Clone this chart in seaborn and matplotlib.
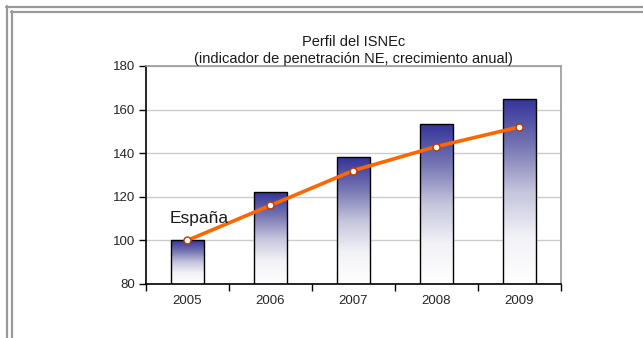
import numpy as np
import pandas as pd
import matplotlib
matplotlib.use("Agg")
import matplotlib.pyplot as plt
from matplotlib.lines import Line2D
from matplotlib.colors import LinearSegmentedColormap
import seaborn as sns

# Data
years = ["2005", "2006", "2007", "2008", "2009"]
isnec_bars = [100, 122, 138, 153.5, 165]
espana_line = [100, 116, 132, 143, 152]
y_ticks = [80, 100, 120, 140, 160, 180]
title = "Perfil del ISNEc\n(indicador de penetración NE, crecimiento anual)"
series_label = "España"

sns.set_theme(style="white")
plt.rcParams["font.family"] = ["Liberation Sans", "DejaVu Sans"]

df = pd.DataFrame({"year": years, "bar": isnec_bars, "line": espana_line})

fig = plt.figure(figsize=(6.43, 3.38), dpi=100)
fig.patch.set_facecolor("white")
ax = fig.add_axes([0.227, 0.160, 0.645, 0.645])

sns.barplot(data=df, x="year", y="bar", ax=ax, width=0.4,
            color="#35349a", edgecolor="black", linewidth=1.0, zorder=2)

# Vertical gradient fill for each bar: dark blue at top fading to white
cmap = LinearSegmentedColormap.from_list(
    "bar_fade", ["#ffffff", "#f2f2f7", "#c4c4dc", "#7574b2", "#34339a"])
grad = np.linspace(0, 1, 256).reshape(-1, 1)
for patch in list(ax.patches):
    x0, y0 = patch.get_x(), patch.get_y()
    w, h = patch.get_width(), patch.get_height()
    img = ax.imshow(grad, cmap=cmap, aspect="auto", origin="lower",
                    extent=[x0, x0 + w, 80, y0 + h], zorder=2.1)
    img.set_clip_path(patch)
    patch.set_facecolor("none")
    patch.set_zorder(2.2)

sns.pointplot(data=df, x="year", y="line", ax=ax, color="#ff6600",
              markers="o", linestyles="-", zorder=3)
for ln in ax.lines:
    ln.set_linewidth(2.6)
    ln.set_markersize(5)
    ln.set_markerfacecolor("white")
    ln.set_markeredgecolor("#b83c00")
    ln.set_markeredgewidth(1.0)

ax.text(-0.21, 108, series_label, fontsize=12.5, color="#1a1a1a",
        ha="left", va="baseline")

ax.set_ylim(80, 180)
ax.set_xlim(-0.5, 4.5)
ax.set_yticks(y_ticks)
ax.set_xticks(range(len(years)))
ax.set_xticklabels(years)
ax.set_xticks(np.arange(-0.5, len(years), 1.0), minor=True)
ax.set_xlabel("")
ax.set_ylabel("")
ax.yaxis.grid(True, color="#cccccc", linewidth=1.0, zorder=0)
ax.set_axisbelow(True)

ax.tick_params(axis="y", which="major", direction="out", length=5,
               width=1, color="black", labelsize=9.5, pad=3, left=True)
ax.tick_params(axis="x", which="major", length=0, labelsize=9.5, pad=8)
ax.tick_params(axis="x", which="minor", direction="out", length=5,
               width=1, color="black", bottom=True)

for side in ["left", "bottom"]:
    ax.spines[side].set_color("black")
    ax.spines[side].set_linewidth(1.2)
for side in ["top", "right"]:
    ax.spines[side].set_color("#999999")
    ax.spines[side].set_linewidth(1.2)
    ax.spines[side].set_visible(True)

ax.set_title(title, fontsize=10.5, color="#1a1a1a", pad=2, linespacing=1.3)

# Double page frame along the top and left edges
W, H = 643, 338
frame_kw = dict(color="#9a9a9a", linewidth=1.6, transform=fig.transFigure)
for off in (6.5, 11.5):
    fig.add_artist(Line2D([(off - 1) / W, 1.0], [1 - off / H, 1 - off / H], **frame_kw))
    fig.add_artist(Line2D([off / W, off / W], [0.0, 1 - (off - 1) / H], **frame_kw))

fig.savefig("out.png", dpi=100, facecolor="white")
